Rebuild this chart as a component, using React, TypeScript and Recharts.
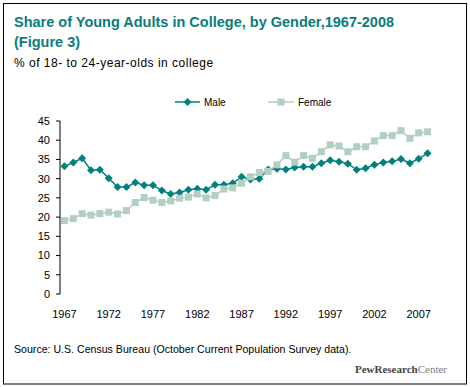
import { LineChart, Line, XAxis, YAxis, Legend } from "recharts";

// % of 18- to 24-year-olds in college
const years = [
  1967, 1968, 1969, 1970, 1971, 1972, 1973, 1974, 1975, 1976,
  1977, 1978, 1979, 1980, 1981, 1982, 1983, 1984, 1985, 1986,
  1987, 1988, 1989, 1990, 1991, 1992, 1993, 1994, 1995, 1996,
  1997, 1998, 1999, 2000, 2001, 2002, 2003, 2004, 2005, 2006,
  2007, 2008,
];
const male = [
  33.2, 34.2, 35.3, 32.2, 32.3, 30.1, 27.8, 27.8, 29.0, 28.3,
  28.3, 26.9, 26.0, 26.4, 27.1, 27.4, 27.1, 28.4, 28.4, 28.8,
  30.5, 29.8, 30.0, 32.4, 32.6, 32.4, 32.9, 33.1, 33.1, 34.0,
  34.8, 34.4, 33.9, 32.3, 32.7, 33.6, 34.2, 34.5, 35.1, 34.0,
  35.2, 36.6,
];
const female = [
  19.1, 19.6, 20.9, 20.5, 20.9, 21.3, 20.8, 21.7, 23.8, 25.1,
  24.4, 23.8, 24.2, 24.9, 25.2, 26.0, 25.0, 25.6, 27.3, 27.6,
  28.8, 30.5, 31.6, 31.9, 33.6, 36.0, 34.3, 36.0, 35.3, 37.0,
  38.8, 38.5, 37.0, 38.3, 38.3, 39.8, 41.2, 41.2, 42.5, 40.5,
  41.9, 42.2,
];
const yTicks = [0, 5, 10, 15, 20, 25, 30, 35, 40, 45];
const xLabelTicks = [1967, 1972, 1977, 1982, 1987, 1992, 1997, 2002, 2007];

const MALE_COLOR = "#008080";
const FEMALE_COLOR = "#b2d0c1";
const TITLE_COLOR = "#0a7d7a";
const FONT = "'Liberation Sans', Arial, sans-serif";

const data = years.map((year, i) => ({ year, male: male[i], female: female[i] }));
// Excel-style category axis: tick marks sit between the years
const boundaryTicks = [...years.map((y) => y - 0.5), years[years.length - 1] + 0.5];
const xDomain = [boundaryTicks[0], boundaryTicks[boundaryTicks.length - 1]];

function Diamond(props: any) {
  const { cx, cy, index } = props;
  if (cx == null || cy == null) return <g key={index} />;
  const r = 4;
  return (
    <polygon
      key={index}
      points={`${cx},${cy - r} ${cx + r},${cy} ${cx},${cy + r} ${cx - r},${cy}`}
      fill={MALE_COLOR}
    />
  );
}

function Square(props: any) {
  const { cx, cy, index } = props;
  if (cx == null || cy == null) return <g key={index} />;
  const s = 3.5;
  return <rect key={index} x={cx - s} y={cy - s} width={s * 2} height={s * 2} fill={FEMALE_COLOR} />;
}

function LegendBox() {
  return (
    <svg width={170} height={16} style={{ display: "block" }}>
      <line x1={5} x2={30} y1={8} y2={8} stroke={MALE_COLOR} strokeWidth={1.5} />
      <polygon points="17.5,4 21.5,8 17.5,12 13.5,8" fill={MALE_COLOR} />
      <text x={34} y={11.5} fontSize={10} fontFamily={FONT} fill="#000">
        Male
      </text>
      <line x1={98} x2={124} y1={8} y2={8} stroke={FEMALE_COLOR} strokeWidth={1.5} />
      <rect x={107.5} y={4.5} width={7} height={7} fill={FEMALE_COLOR} />
      <text x={128} y={11.5} fontSize={10} fontFamily={FONT} fill="#000">
        Female
      </text>
    </svg>
  );
}

export default function App() {
  const tickStyle = { fontSize: 11, fill: "#000", fontFamily: FONT };
  return (
    <div style={{ position: "absolute", left: 0, top: 0, width: 470, height: 387, background: "#fff" }}>
      <LineChart
        width={470}
        height={387}
        data={data}
        margin={{ top: 121, right: 38, left: 0, bottom: 63 }}
      >
        <XAxis
          xAxisId="marks"
          dataKey="year"
          type="number"
          domain={xDomain}
          ticks={boundaryTicks}
          interval={0}
          tick={false}
          tickSize={3}
          height={0}
          axisLine={{ stroke: "#000" }}
          tickLine={{ stroke: "#000" }}
        />
        <XAxis
          xAxisId="labels"
          dataKey="year"
          type="number"
          domain={xDomain}
          ticks={xLabelTicks}
          interval={0}
          axisLine={false}
          tickLine={false}
          tickSize={0}
          tickMargin={16}
          height={30}
          tick={tickStyle}
        />
        <YAxis
          domain={[0, 45]}
          ticks={yTicks}
          interval={0}
          width={60}
          tickSize={4}
          tickMargin={6}
          axisLine={{ stroke: "#000" }}
          tickLine={{ stroke: "#000" }}
          tick={tickStyle}
        />
        <Legend
          verticalAlign="middle"
          align="center"
          wrapperStyle={{ top: 94, left: 170, width: 170 }}
          content={() => <LegendBox />}
        />
        <Line
          xAxisId="marks"
          dataKey="male"
          name="Male"
          stroke={MALE_COLOR}
          strokeWidth={1.5}
          dot={Diamond}
          activeDot={false}
          isAnimationActive={false}
        />
        <Line
          xAxisId="marks"
          dataKey="female"
          name="Female"
          stroke={FEMALE_COLOR}
          strokeWidth={1.5}
          dot={Square}
          activeDot={false}
          isAnimationActive={false}
        />
      </LineChart>
      <svg
        width={470}
        height={387}
        style={{ position: "absolute", left: 0, top: 0, pointerEvents: "none" }}
      >
        <rect x={3.5} y={3.5} width={463} height={380.5} fill="none" stroke="#000" strokeWidth={1} />
        <text x={14} y={27.3} fontSize={14.5} fontWeight="bold" fontFamily={FONT} fill={TITLE_COLOR}>
          Share of Young Adults in College, by Gender,1967-2008
        </text>
        <text x={14} y={47.3} fontSize={14.5} fontWeight="bold" fontFamily={FONT} fill={TITLE_COLOR}>
          (Figure 3)
        </text>
        <text x={14} y={66.7} fontSize={12} letterSpacing={0.5} fontFamily={FONT} fill="#000">
          % of 18- to 24-year-olds in college
        </text>
        <text x={14} y={352.7} fontSize={10.6} fontFamily={FONT} fill="#000">
          Source: U.S. Census Bureau (October Current Population Survey data).
        </text>
        <text
          x={447}
          y={372.7}
          textAnchor="end"
          fontSize={11}
          fontFamily="'Liberation Serif', 'Times New Roman', serif"
        >
          <tspan fontWeight="bold" fill="#444">
            PewResearch
          </tspan>
          <tspan fill="#808080">Center</tspan>
        </text>
      </svg>
    </div>
  );
}
